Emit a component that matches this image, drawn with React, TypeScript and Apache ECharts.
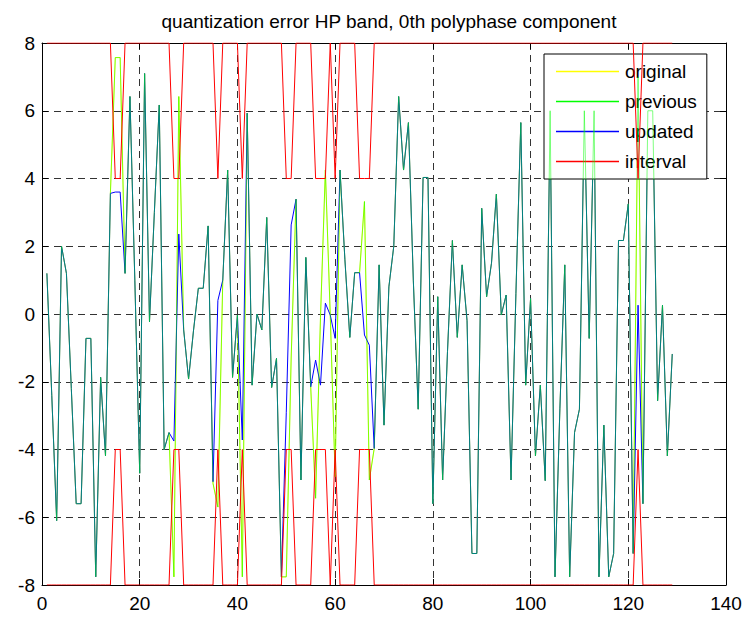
import React, { useEffect, useRef } from "react";
import * as echarts from "echarts";

const TITLE = "quantization error HP band, 0th polyphase component";
const SERIES_NAMES = ["original", "previous", "updated", "interval"];
const X_TICKS = [0, 20, 40, 60, 80, 100, 120, 140];
const Y_TICKS = [-8, -6, -4, -2, 0, 2, 4, 6, 8];

// updated (blue) values, samples 1..129
const updated = [
  1.2, -2.4, -6.1, 2.0, 1.2, -2.2, -5.6, -5.6, -0.72, -0.72,
  -7.76, -1.87, -4.19, 3.56, 3.6, 3.6, 1.2, 6.42, 1.0, -4.7,
  7.1, -0.23, 3.0, 6.17, -4.0, -3.5, -3.75, 2.36, -0.47, -1.92,
  -0.5, 0.76, 0.76, 2.6, -4.95, 0.4, 1.0, 4.25, -1.87, -0.03,
  -3.72, 5.93, -2.1, 0.0, -0.47, 2.85, -2.17, -1.31, -7.76, -2.9,
  2.63, 3.39, -4.9, 1.67, -2.15, -1.36, -2.1, 0.32, -0.03, -0.72,
  4.25, 1.6, -0.69, 1.22, 1.22, -0.62, -0.92, -3.97, 1.45, -3.28,
  0.8, 2.0, 6.42, 4.25, 5.65, 1.0, -2.81, 4.03, 4.03, -5.6,
  0.51, -4.9, -1.1, 2.17, -0.69, 1.45, -0.2, -7.07, -7.07, 3.12,
  0.51, 1.5, 3.54, -0.03, 0.56, -4.9, 0.6, 5.65, -2.1, 0.46,
  -4.19, -2.1, -4.92, 6.0, -7.76, -2.8, 1.45, -7.76, -3.5, -2.81,
  6.0, -0.72, 6.0, -7.76, -3.28, -7.76, -7.07, 2.17, 2.17, 3.25,
  -7.07, 0.26, -5.6, 6.0, 6.0, -2.56, 0.26, -4.19, -1.18,
];

// previous (green) values, samples 1..129
const previous = [
  1.2, -2.4, -6.1, 2.0, 1.2, -2.2, -5.6, -5.6, -0.72, -0.72,
  -7.76, -1.87, -4.19, 3.56, 7.57, 7.57, 1.2, 6.42, 1.0, -4.7,
  7.1, -0.23, 3.0, 6.17, -4.0, -3.5, -7.76, 6.42, -0.47, -1.92,
  -0.5, 0.76, 0.76, 2.6, -5.0, -5.7, 1.0, 4.25, -1.87, -0.03,
  -7.76, 5.93, -2.1, 0.0, -0.47, 2.85, -2.17, -1.31, -7.76, -7.76,
  -1.3, 3.39, -4.9, 1.67, -2.15, -5.44, -0.1, 4.25, -0.03, -4.8,
  4.25, 1.6, -0.69, 1.22, 1.22, 3.32, -4.9, -3.97, 1.45, -3.28,
  0.8, 2.0, 6.42, 4.25, 5.65, 1.0, -2.81, 4.03, 4.03, -5.6,
  0.51, -4.9, -1.1, 2.17, -0.69, 1.45, -0.2, -7.07, -7.07, 3.12,
  0.51, 1.5, 3.54, -0.03, 0.56, -4.9, 0.6, 5.65, -2.1, 0.46,
  -4.19, -2.1, -4.92, 6.0, -7.76, -2.8, 1.45, -7.76, -3.5, -2.81,
  6.0, -0.72, 6.0, -7.76, -3.28, -7.76, -7.07, 2.17, 2.17, 3.25,
  -7.07, 7.0, -5.6, 6.0, 6.0, -2.56, 0.26, -4.19, -1.18,
];

// original (yellow) values coincide with previous
const original = previous.slice();

// interval half-width per sample (upper = +w, lower = -w)
const intervalWidth = [
  8, 8, 8, 8, 8, 8, 8, 8, 8, 8,
  8, 8, 8, 8, 4, 4, 8, 8, 8, 8,
  8, 8, 8, 8, 8, 8, 4, 4, 8, 8,
  8, 8, 8, 8, 8, 4, 8, 8, 8, 8,
  4, 8, 8, 8, 8, 8, 8, 8, 8, 4,
  4, 8, 8, 8, 8, 4, 4, 4, 8, 4,
  8, 8, 8, 8, 4, 4, 4, 8, 8, 8,
  8, 8, 8, 8, 8, 8, 8, 8, 8, 8,
  8, 8, 8, 8, 8, 8, 8, 8, 8, 8,
  8, 8, 8, 8, 8, 8, 8, 8, 8, 8,
  8, 8, 8, 8, 8, 8, 8, 8, 8, 8,
  8, 8, 8, 8, 8, 8, 8, 8, 8, 8,
  8, 4, 8, 8, 8, 8, 8, 8, 8,
];

const FONT = "Liberation Sans, Arial, Helvetica, sans-serif";

function pairs(vals: number[], sign = 1) {
  return vals.map((v, i) => [i + 1, sign * v]);
}

export default function App() {
  const ref = useRef<HTMLDivElement>(null);
  useEffect(() => {
    if (!ref.current) return;
    const chart = echarts.init(ref.current, null, { renderer: "svg" });
    const lineSeries = (name: string, data: number[][], color: string, opacity = 1, z = 2) => ({
      name,
      type: "line",
      data,
      showSymbol: false,
      symbol: "none",
      silent: true,
      z,
      itemStyle: { color },
      lineStyle: { color, width: 1, opacity },
      emphasis: { disabled: true },
    });
    const grid = { left: 42, right: 23, top: 43, bottom: 33 };
    const dashed = { show: true, lineStyle: { color: "#333", type: [7, 5], width: 1 } };
    chart.setOption({
      animation: false,
      backgroundColor: "#fff",
      title: {
        text: TITLE,
        left: 384,
        textAlign: "center",
        top: 7,
        textStyle: { fontFamily: FONT, fontSize: 19, fontWeight: "normal", color: "#000" },
      },
      grid,
      legend: {
        data: SERIES_NAMES,
        orient: "vertical",
        left: 544,
        top: 54,
        padding: [8, 10, 8, 12],
        itemGap: 11,
        itemWidth: 63,
        itemHeight: 1.5,
        icon: "rect",
        backgroundColor: "#fff",
        borderColor: "#000",
        borderWidth: 1,
        borderRadius: 0,
        selectedMode: false,
        textStyle: { fontFamily: FONT, fontSize: 19, color: "#000", padding: [0, 0, 0, 1] },
      },
      xAxis: [
        {
          type: "value",
          min: 0,
          max: 140,
          interval: 20,
          position: "bottom",
          axisLine: { show: true, onZero: false, lineStyle: { color: "#000", width: 1 } },
          axisTick: { show: true, inside: true, length: 6, lineStyle: { color: "#000" } },
          axisLabel: { color: "#000", fontFamily: FONT, fontSize: 19, margin: 9 },
          splitLine: dashed,
        },
        {
          type: "value",
          min: 0,
          max: 140,
          interval: 20,
          position: "top",
          axisLine: { show: true, onZero: false, lineStyle: { color: "#000", width: 1 } },
          axisTick: { show: true, inside: true, length: 6, lineStyle: { color: "#000" } },
          axisLabel: { show: false },
          splitLine: { show: false },
        },
      ],
      yAxis: [
        {
          type: "value",
          min: -8,
          max: 8,
          interval: 2,
          position: "left",
          axisLine: { show: true, onZero: false, lineStyle: { color: "#000", width: 1 } },
          axisTick: { show: true, inside: true, length: 6, lineStyle: { color: "#000" } },
          axisLabel: { color: "#000", fontFamily: FONT, fontSize: 19, margin: 7 },
          splitLine: dashed,
        },
        {
          type: "value",
          min: -8,
          max: 8,
          interval: 2,
          position: "right",
          axisLine: { show: true, onZero: false, lineStyle: { color: "#000", width: 1 } },
          axisTick: { show: true, inside: true, length: 6, lineStyle: { color: "#000" } },
          axisLabel: { show: false },
          splitLine: { show: false },
        },
      ],
      series: [
        lineSeries("original", pairs(original), "#ffff00", 1, 2),
        lineSeries("updated", pairs(updated), "#0000ff", 1, 3),
        lineSeries("previous", pairs(previous), "#00ff00", 0.5, 4),
        lineSeries("interval", pairs(intervalWidth, 1), "#ff0000", 1, 5),
        lineSeries("interval", pairs(intervalWidth, -1), "#ff0000", 1, 5),
      ],
    });
    return () => chart.dispose();
  }, []);
  return (
    <div
      ref={ref}
      style={{ position: "fixed", left: 0, top: 0, width: 749, height: 618, background: "#fff" }}
    />
  );
}
